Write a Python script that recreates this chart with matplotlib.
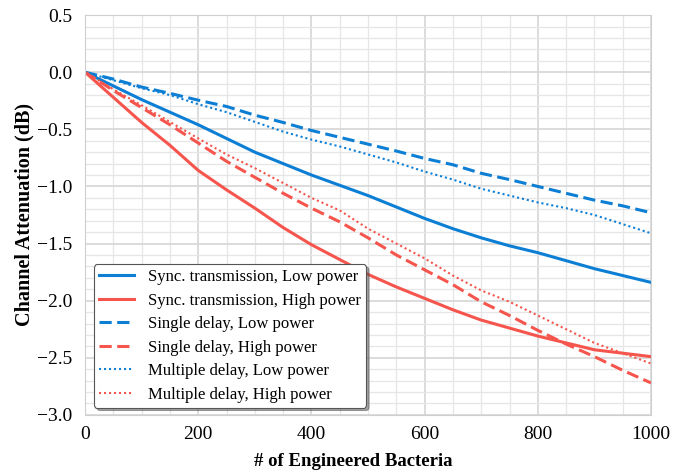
import matplotlib
matplotlib.use("Agg")
import matplotlib.pyplot as plt
from matplotlib.ticker import MultipleLocator, FuncFormatter

plt.rcParams["font.family"] = ["Liberation Serif", "DejaVu Serif"]

# number of engineered bacteria
bacteria = [0, 50, 100, 150, 200, 250, 300, 350, 400, 450, 500,
            550, 600, 650, 700, 750, 800, 850, 900, 950, 1000]

# channel attenuation (dB)
sync_low = [0, -0.12, -0.24, -0.35, -0.46, -0.58, -0.70, -0.80, -0.90, -0.99, -1.08,
            -1.18, -1.28, -1.37, -1.45, -1.52, -1.58, -1.65, -1.72, -1.78, -1.84]
sync_high = [0, -0.22, -0.44, -0.64, -0.86, -1.03, -1.19, -1.36, -1.51, -1.64, -1.77,
             -1.88, -1.98, -2.08, -2.17, -2.24, -2.31, -2.37, -2.43, -2.46, -2.49]
single_low = [0, -0.06, -0.13, -0.185, -0.245, -0.30, -0.376, -0.44, -0.51, -0.57, -0.63,
              -0.69, -0.755, -0.81, -0.885, -0.94, -1.00, -1.06, -1.12, -1.17, -1.23]
single_high = [0, -0.16, -0.31, -0.46, -0.62, -0.78, -0.92, -1.06, -1.19, -1.31, -1.45,
               -1.60, -1.73, -1.86, -2.01, -2.13, -2.26, -2.38, -2.49, -2.61, -2.72]
multi_low = [0, -0.07, -0.14, -0.20, -0.28, -0.35, -0.435, -0.52, -0.59, -0.65, -0.72,
             -0.79, -0.87, -0.94, -1.02, -1.08, -1.14, -1.19, -1.25, -1.33, -1.41]
multi_high = [0, -0.15, -0.29, -0.435, -0.58, -0.72, -0.84, -0.97, -1.10, -1.21, -1.37,
              -1.50, -1.63, -1.78, -1.91, -2.01, -2.13, -2.25, -2.37, -2.46, -2.55]

labels = ["Sync. transmission, Low power", "Sync. transmission, High power",
          "Single delay, Low power", "Single delay, High power",
          "Multiple delay, Low power", "Multiple delay, High power"]

blue = "#0c7fd5"
red = "#f5554c"
dashed = (0, (4, 1.8))
dotted = (0, (1, 1.4))

fig = plt.figure(figsize=(6.86, 4.72), dpi=100)
ax = fig.add_axes([0.124, 0.121, 0.825, 0.847])

ax.plot(bacteria, sync_low, color=blue, lw=2.2, label=labels[0])
ax.plot(bacteria, sync_high, color=red, lw=2.2, label=labels[1])
ax.plot(bacteria, single_low, color=blue, lw=2.2, ls=dashed, label=labels[2])
ax.plot(bacteria, single_high, color=red, lw=2.2, ls=dashed, label=labels[3])
ax.plot(bacteria, multi_low, color=blue, lw=1.5, ls=dotted, label=labels[4])
ax.plot(bacteria, multi_high, color=red, lw=1.5, ls=dotted, label=labels[5])

ax.set_xlim(0, 1000)
ax.set_ylim(-3.0, 0.5)
ax.xaxis.set_major_locator(MultipleLocator(200))
ax.xaxis.set_minor_locator(MultipleLocator(50))
ax.yaxis.set_major_locator(MultipleLocator(0.5))
ax.yaxis.set_minor_locator(MultipleLocator(0.1))
ax.yaxis.set_major_formatter(FuncFormatter(lambda v, p: f"{v:.1f}".replace("-", "\u2212")))
ax.grid(True, which="major", color="#d6d6d6", lw=1.2)
ax.grid(True, which="minor", color="#e6e6e6", lw=0.9)
ax.set_axisbelow(True)
ax.tick_params(which="both", length=0, labelsize=14)
ax.tick_params(axis="y", pad=9)
ax.tick_params(axis="x", pad=8)
for s in ax.spines.values():
    s.set_color("#cfcfcf")

ax.set_xlabel("# of Engineered Bacteria", fontsize=13.5, fontweight="bold", labelpad=7)
ax.set_ylabel("Channel Attenuation (dB)", fontsize=14.5, fontweight="bold", labelpad=2)
ax.xaxis.label.set_x(0.473)

leg = ax.legend(loc="lower left", bbox_to_anchor=(0.016, 0.018), borderaxespad=0,
                fontsize=12, shadow=True, fancybox=True, framealpha=1,
                edgecolor="#555555", handlelength=2.1, handletextpad=0.85,
                borderpad=0.3, labelspacing=0.45)
leg.get_frame().set_linewidth(0.8)

fig.savefig("out.png", dpi=100)
